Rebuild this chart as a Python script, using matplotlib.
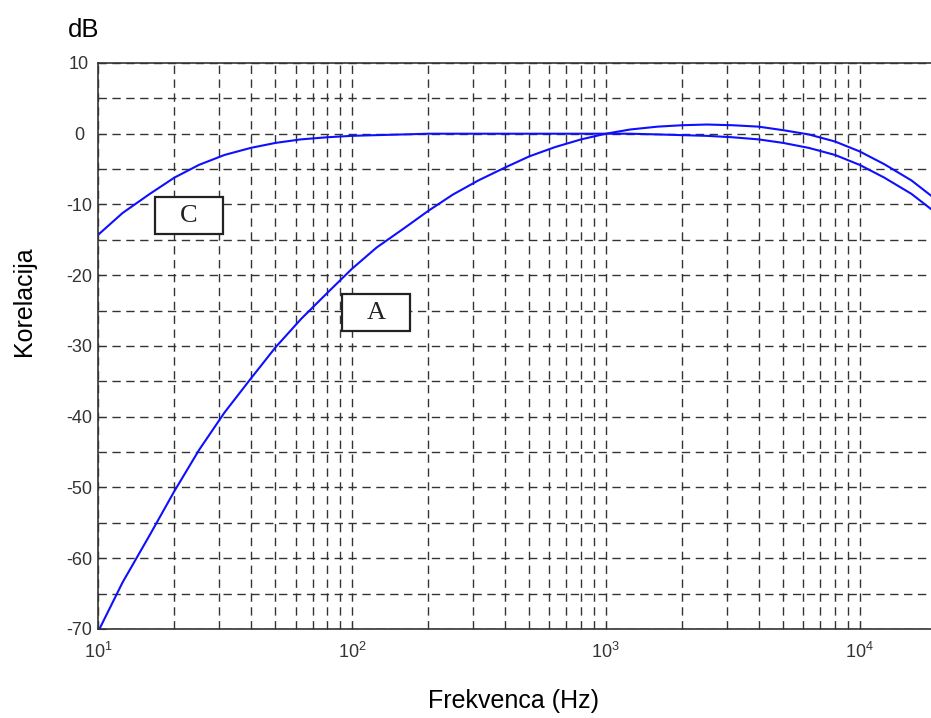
import matplotlib
matplotlib.use("Agg")
import matplotlib.pyplot as plt
from matplotlib.patches import Rectangle
from matplotlib.ticker import LogLocator, MultipleLocator, FixedLocator

plt.rcParams["font.family"] = ["Liberation Sans", "DejaVu Sans"]
plt.rcParams["axes.unicode_minus"] = False

# third-octave frequencies and weighting values
freq = [10, 12.5, 16, 20, 25, 31.5, 40, 50, 63, 80, 100, 125, 160, 200, 250,
        315, 400, 500, 630, 800, 1000, 1250, 1600, 2000, 2500, 3150, 4000,
        5000, 6300, 8000, 10000, 12500, 16000, 20000]
a_weight = [-70.4, -63.4, -56.7, -50.5, -44.7, -39.4, -34.6, -30.2, -26.2,
            -22.5, -19.1, -16.1, -13.4, -10.9, -8.6, -6.6, -4.8, -3.2, -1.9,
            -0.8, 0.0, 0.6, 1.0, 1.2, 1.3, 1.2, 1.0, 0.5, -0.1, -1.1, -2.5,
            -4.3, -6.6, -9.3]
c_weight = [-14.3, -11.2, -8.5, -6.2, -4.4, -3.0, -2.0, -1.3, -0.8, -0.5,
            -0.3, -0.2, -0.1, 0.0, 0.0, 0.0, 0.0, 0.0, 0.0, 0.0, 0.0, 0.0,
            -0.1, -0.2, -0.3, -0.5, -0.8, -1.3, -2.0, -3.0, -4.4, -6.2, -8.5,
            -11.2]

x_ticks = [10, 100, 1000, 10000]
x_tick_labels = [r"$\mathregular{10^{1}}$", r"$\mathregular{10^{2}}$",
                 r"$\mathregular{10^{3}}$", r"$\mathregular{10^{4}}$"]
y_ticks = [10, 0, -10, -20, -30, -40, -50, -60, -70]

fig = plt.figure(figsize=(9.31, 7.18), dpi=100)
ax = fig.add_axes([0.1053, 0.124, 0.9001, 0.7883])

ax.plot(freq, a_weight, color="#0f0fff", lw=1.5)
ax.plot(freq, c_weight, color="#0f0fff", lw=1.5)

ax.set_xscale("log")
ax.set_xlim(10, 20000)
ax.set_ylim(-70, 10)

ax.xaxis.set_major_locator(FixedLocator(x_ticks))
ax.set_xticklabels(x_tick_labels)
ax.xaxis.set_minor_locator(LogLocator(base=10, subs=range(2, 10), numticks=20))
ax.xaxis.set_minor_formatter(plt.NullFormatter())
ax.set_yticks(y_ticks)
ax.yaxis.set_minor_locator(MultipleLocator(5))

ax.grid(which="both", color="#333333", linestyle=(0, (6, 4)), lw=1.0)
ax.tick_params(which="both", direction="in", labelsize=13, colors="#333333",
               labelcolor="#333333", length=6)
ax.tick_params(axis="x", pad=9)
ax.tick_params(axis="y", pad=13.7)
for t in ax.get_yticklabels():
    t.set_horizontalalignment("center")
for s in ax.spines.values():
    s.set_color("#333333")
    s.set_linewidth(1.2)

ax.text(-0.0358, 1.046, "dB", transform=ax.transAxes, fontsize=18.5,
        ha="left", va="baseline")
fig.text(24 / 931, 1 - 301 / 718, "Korelacija", rotation=90, fontsize=18,
         ha="center", va="center")
fig.text(514 / 931, 1 - 701 / 718, "Frekvenca (Hz)", fontsize=18,
         ha="center", va="center")

# boxed curve labels
for label, cx, cy in [("C", 0.1086, 0.7297), ("A", 0.3317, 0.5583)]:
    w, h = 0.0811, 0.0654
    ax.add_patch(Rectangle((cx - w / 2, cy - h / 2), w, h, transform=ax.transAxes,
                           facecolor="white", edgecolor="#222222", lw=1.6,
                           zorder=5))
    ax.text(cx, cy, label, transform=ax.transAxes, ha="center", va="center",
            fontsize=19, family="Liberation Serif", color="#222222", zorder=6)

fig.savefig("out.png", dpi=100)
